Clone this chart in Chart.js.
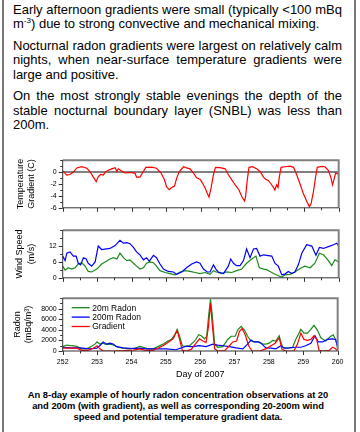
<!DOCTYPE html>
<html>
<head>
<meta charset="utf-8">
<script src="https://cdn.jsdelivr.net/npm/chart.js@4.4.0/dist/chart.umd.min.js"></script>
<style>
  body { margin: 0; background: #fff; font-family: "Liberation Sans", Arial, sans-serif; color: #000; }
  #page { position: relative; width: 360px; height: 432px; overflow: hidden; background: #fff; }
  .edge { position: absolute; top: 0; height: 432px; width: 1.5px; background: #777; }
  #txt { position: absolute; left: 13px; top: 2.5px; width: 329px; font-size: 13px; line-height: 14.5px; }
  .para { margin: 0 0 7px 0; }
  .j { text-align: justify; text-align-last: justify; white-space: nowrap; }
  sup { font-size: 8px; line-height: 0; vertical-align: 5px; }
  canvas { position: absolute; left: 0; }
  #cap { position: absolute; left: 2px; width: 352px; top: 388.5px; text-align: center; font-weight: bold; font-size: 9.4px; line-height: 11px; }
</style>
</head>
<body>
<div id="page">
  <div class="edge" style="left:2px"></div>
  <div class="edge" style="left:354px"></div>
  <div id="txt">
    <div class="para">
      <div class="j">Early afternoon gradients were small (typically &lt;100 mBq</div>
      <div>m<sup>-3</sup>) due to strong convective and mechanical mixing.</div>
    </div>
    <div class="para">
      <div class="j">Nocturnal radon gradients were largest on relatively calm</div>
      <div class="j">nights, when near-surface temperature gradients were</div>
      <div>large and positive.</div>
    </div>
    <div class="para">
      <div class="j">On the most strongly stable evenings the depth of the</div>
      <div class="j">stable nocturnal boundary layer (SNBL) was less than</div>
      <div>200m.</div>
    </div>
  </div>
  <canvas id="cTemp" width="350" height="68" style="top:150px"></canvas>
  <canvas id="cWind" width="350" height="68" style="top:220px"></canvas>
  <canvas id="cRadon" width="350" height="95" style="top:288px"></canvas>
  <div id="cap">An 8-day example of hourly radon concentration observations at 20<br>and 200m (with gradient), as well as corresponding 20-200m wind<br>speed and potential temperature gradient data.</div>
</div>
<script>
// potential temperature gradient 20-200m (C)
const tempDays = [252.00,252.12,252.21,252.31,252.41,252.55,252.70,252.79,252.89,252.97,253.03,253.10,253.18,253.23,253.32,253.42,253.52,253.57,253.61,253.71,253.81,253.90,254.00,254.10,254.14,254.24,254.31,254.41,254.58,254.72,254.85,254.95,255.01,255.09,255.16,255.24,255.30,255.37,255.50,255.59,255.69,255.79,255.88,255.98,256.05,256.13,256.20,256.24,256.30,256.37,256.43,256.56,256.71,256.80,256.90,257.01,257.11,257.19,257.27,257.30,257.35,257.40,257.50,257.62,257.72,257.82,257.88,257.96,258.04,258.11,258.15,258.20,258.24,258.28,258.33,258.44,258.59,258.69,258.78,258.88,258.98,259.07,259.15,259.20,259.27,259.33,259.38,259.51,259.60,259.70,259.77,259.82,259.87,259.91,259.97,260.00];
const tempGrad = [0.2,-0.5,-0.4,0.0,0.7,0.9,0.65,0.1,-0.85,-1.6,-0.8,-0.4,-0.5,0.0,0.3,0.55,0.75,0.1,0.55,0.2,-0.15,-0.1,-0.1,-0.2,-0.85,-0.85,-0.15,0.8,0.85,0.65,-0.15,-1.3,-2.5,-2.95,-2.6,-2.35,-1.1,0.0,0.9,0.7,0.55,-0.15,-0.95,-1.2,-1.8,-2.7,-3.7,-4.2,-2.7,-0.4,0.8,0.75,0.55,-0.4,-1.3,-2.25,-3.0,-4.1,-4.85,-4.2,-1.3,0.8,0.9,0.55,0.1,-0.85,-1.2,-1.4,-2.0,-2.6,-3.0,-2.15,-2.6,-0.8,0.8,0.9,1.0,0.8,-0.4,-2.0,-3.7,-4.85,-5.8,-5.3,-3.2,-0.85,0.8,0.95,0.9,0.3,-0.85,-2.15,-1.1,-0.15,-0.3,-0.4];

// wind speed (m/s)
const wind200Days = [252.00,252.07,252.12,252.21,252.31,252.39,252.45,252.52,252.60,252.68,252.74,252.84,252.94,253.03,253.13,253.37,253.52,253.66,253.76,253.86,253.95,254.05,254.14,254.24,254.34,254.43,254.51,254.63,254.72,254.82,254.92,255.06,255.21,255.30,255.45,255.59,255.74,255.88,255.98,256.08,256.19,256.27,256.37,256.44,256.51,256.66,256.80,256.87,256.95,257.04,257.14,257.24,257.33,257.43,257.53,257.62,257.72,257.82,257.91,258.06,258.15,258.25,258.35,258.44,258.54,258.64,258.73,258.83,258.93,259.07,259.22,259.34,259.44,259.56,259.70,259.85,259.94,260.00];
const wind200 = [8.2,6.5,9.3,9.8,8.2,8.2,5.5,4.9,7.6,7.1,5.5,4.4,6.0,12,10.7,11.1,12.2,14.2,13.1,13.3,12.9,11.5,9.8,8.7,6.8,7.6,6.3,8.5,7.6,5.2,3.3,2.4,2.2,1.3,2.2,3.8,5.2,6.0,5.5,3.3,2.2,2.2,4.9,3.3,2.2,1.6,4.4,7.1,5.5,4.6,4.6,6.5,10.9,7.6,10.9,11.1,8.2,8.7,8.5,8.2,5.5,4.4,1.1,1.4,2.4,1.6,2.2,4.9,9.3,12.5,12,8.5,11.5,11.1,11.8,12.5,13.1,12.2];
const wind20Days = [252.00,252.07,252.16,252.26,252.36,252.45,252.55,252.65,252.74,252.84,252.99,253.13,253.23,253.37,253.47,253.57,253.66,253.76,253.86,253.95,254.05,254.14,254.24,254.34,254.43,254.53,254.63,254.72,254.82,254.97,255.11,255.26,255.40,255.55,255.69,255.84,255.98,256.13,256.27,256.37,256.46,256.61,256.75,256.90,257.04,257.19,257.33,257.48,257.60,257.70,257.82,257.91,258.01,258.11,258.25,258.35,258.44,258.59,258.73,258.88,259.02,259.17,259.31,259.44,259.56,259.70,259.80,259.89,260.00];
const wind20 = [4.4,2.9,3.8,3.3,3.8,5.2,5.7,4.4,2.4,2.2,3.3,5.2,6.0,7.1,7.6,7.1,9.3,7.6,6.5,6.8,5.5,4.4,3.3,3.8,5.5,6.0,5.7,4.4,2.7,2.0,1.6,1.1,2.2,2.7,2.4,2.0,1.6,2.0,1.3,2.7,2.2,1.6,2.2,2.0,2.7,3.3,5.5,7.1,8.2,3.8,3.3,3.1,2.4,1.6,0.8,0.2,1.1,1.3,2.2,3.5,4.4,3.8,5.5,9.3,8.7,6.5,4.6,6.8,6.0];

// radon (mBq/m3)
const radon20Days = [252.00,252.12,252.26,252.41,252.55,252.70,252.84,252.94,253.00,253.08,253.16,253.26,253.37,253.47,253.61,253.76,253.95,254.10,254.24,254.34,254.48,254.63,254.77,254.92,255.06,255.16,255.26,255.33,255.40,255.48,255.55,255.69,255.84,255.96,256.03,256.13,256.19,256.25,256.30,256.35,256.42,256.51,256.66,256.80,256.90,257.02,257.09,257.19,257.29,257.38,257.48,257.57,257.72,257.82,257.91,258.01,258.11,258.20,258.30,258.35,258.40,258.54,258.69,258.78,258.93,259.02,259.12,259.22,259.31,259.41,259.51,259.65,259.80,259.87,259.94,260.00];
const radon20 = [830,1130,1000,890,410,410,890,1300,1720,1300,1480,1240,1300,1130,710,530,410,530,890,710,410,410,830,1300,1900,2190,3080,4090,2790,1000,890,1000,1900,3080,2900,2310,2790,6930,9780,6930,1300,710,830,2190,2790,2790,3970,4680,3970,2790,1900,1720,1720,1300,1300,1480,2010,1900,2900,1600,710,530,710,2190,4090,3380,3380,4090,4860,3970,2490,1900,2790,3080,2190,710];
const radon200Days = [252.00,252.21,252.50,252.79,252.99,253.08,253.18,253.28,253.37,253.47,253.57,253.76,254.05,254.24,254.43,254.72,255.01,255.30,255.45,255.59,255.79,255.98,256.17,256.37,256.51,256.66,256.85,257.04,257.24,257.38,257.48,257.57,257.67,257.77,257.91,258.06,258.20,258.35,258.44,258.59,258.78,258.93,259.07,259.22,259.34,259.44,259.56,259.70,259.85,259.94,260.00];
const radon200 = [710,590,590,410,530,1000,1720,1300,1480,1300,830,590,470,530,410,410,410,240,590,890,830,1000,830,1300,1130,1000,830,590,410,1300,2070,1720,1720,1480,590,530,410,1000,530,590,710,710,1000,1480,2900,1720,1720,2190,2310,2190,710];
const gradDays = [252.00,252.21,252.41,252.55,252.74,252.89,253.00,253.08,253.18,253.47,253.76,254.05,254.24,254.39,254.63,254.77,254.92,255.06,255.21,255.33,255.40,255.48,255.59,255.74,255.88,255.98,256.08,256.17,256.24,256.30,256.35,256.42,256.51,256.71,256.85,256.95,257.06,257.14,257.22,257.31,257.41,257.51,257.72,257.91,258.06,258.18,258.30,258.38,258.49,258.73,258.83,258.93,259.02,259.12,259.22,259.31,259.39,259.46,259.60,259.75,259.85,259.94,260.00];
const radonGrad = [530,530,530,120,120,530,1000,410,0,0,60,180,410,120,120,530,1000,1600,2310,3850,2190,120,0,300,1480,2310,1900,1600,4560,9010,5160,410,0,60,1000,1720,1900,3670,4270,3080,1000,0,0,410,1000,1480,2490,300,0,0,1300,3380,2190,2010,2190,2900,2190,120,0,120,710,410,0];

const dayTicks = [252, 253, 254, 255, 256, 257, 258, 259, 260];

const GREEN = '#1a8a1a', BLUE = '#0000ff', RED = '#ff0000';
const FONT = '"Liberation Sans", Arial, sans-serif';

Chart.defaults.font.family = FONT;
Chart.defaults.color = '#000';

const pts = (xs, ys) => xs.map((x, i) => ({ x: x, y: ys[i] }));

// frame, zero line, tick marks (major/minor) and the two-line y title
const frame = {
  id: 'frame',
  beforeDatasetsDraw(chart, args, opts) {
    const { ctx, chartArea: a } = chart;
    if (opts.zero) {
      const y0 = chart.scales.y.getPixelForValue(0);
      ctx.save();
      ctx.strokeStyle = '#808080';
      ctx.lineWidth = 2;
      ctx.beginPath();
      ctx.moveTo(a.left, y0);
      ctx.lineTo(a.right, y0);
      ctx.stroke();
      ctx.restore();
    }
  },
  afterDraw(chart, args, opts) {
    const { ctx, chartArea: a } = chart;
    const xs = chart.scales.x, ys = chart.scales.y;
    ctx.save();
    ctx.strokeStyle = '#808080';
    ctx.lineWidth = 2;
    ctx.beginPath();
    ctx.moveTo(a.left, a.top);
    ctx.lineTo(a.right, a.top);
    ctx.lineTo(a.right, a.bottom);
    ctx.stroke();
    ctx.strokeStyle = '#333';
    ctx.lineWidth = 1;
    ctx.beginPath();
    ctx.moveTo(a.left, a.top);
    ctx.lineTo(a.left, a.bottom);
    ctx.lineTo(a.right, a.bottom);
    xs.ticks.forEach(t => {
      const px = Math.round(xs.getPixelForValue(t.value)) + 0.5;
      const len = dayTicks.includes(t.value) ? 4 : 2.5;
      ctx.moveTo(px, a.bottom);
      ctx.lineTo(px, a.bottom + len);
    });
    ys.ticks.forEach(t => {
      const py = Math.round(ys.getPixelForValue(t.value)) + 0.5;
      const len = t.label !== '' ? 4 : 2.5;
      ctx.moveTo(a.left - len, py);
      ctx.lineTo(a.left, py);
    });
    ctx.stroke();

    // y title, rotated, one column per line
    const midY = (a.top + a.bottom) / 2;
    ctx.fillStyle = '#000';
    ctx.font = '9px ' + FONT;
    ctx.textAlign = 'center';
    ctx.textBaseline = 'middle';
    opts.title.forEach((line, i) => {
      ctx.save();
      ctx.translate(opts.titleX[i], midY);
      ctx.rotate(-Math.PI / 2);
      ctx.fillText(line, 0, 0);
      ctx.restore();
    });
    ctx.restore();
  }
};

// legend drawn inside the plot area, top left
const innerLegend = {
  id: 'innerLegend',
  afterDraw(chart, args, opts) {
    if (!opts.show) return;
    const { ctx, chartArea: a } = chart;
    ctx.save();
    ctx.font = '8.5px ' + FONT;
    ctx.textBaseline = 'middle';
    chart.data.datasets.forEach((ds, i) => {
      const y = a.top + 9.5 + i * 9.4;
      ctx.strokeStyle = ds.borderColor;
      ctx.lineWidth = 1.3;
      ctx.beginPath();
      ctx.moveTo(a.left + 9, y);
      ctx.lineTo(a.left + 27, y);
      ctx.stroke();
      ctx.fillStyle = '#000';
      ctx.fillText(ds.label, a.left + 29.5, y + 0.5);
    });
    ctx.restore();
  }
};

function xScale(showLabels) {
  return {
    type: 'linear', min: 252, max: 260,
    grid: { display: false, drawTicks: false }, border: { display: false },
    afterFit: s => { s.height = showLabels ? 32 : 6; },
    ticks: {
      display: showLabels, stepSize: 0.5, autoSkip: false, maxRotation: 0, padding: 6.5,
      font: { size: 7 },
      callback: v => (Number.isInteger(v) ? String(v) : '')
    },
    title: {
      display: showLabels, text: 'Day of 2007',
      font: { size: 9 }, padding: { top: 0, bottom: 3.5 }
    }
  };
}

function yScale(min, max, step, labelEvery) {
  return {
    type: 'linear', min: min, max: max,
    grid: { display: false, drawTicks: false }, border: { display: false },
    afterFit: s => { s.width = 62.7; },
    ticks: {
      stepSize: step, autoSkip: false, padding: 6, font: { size: 7 },
      callback: v => (v % labelEvery === 0 && v !== max ? String(v) : '')
    }
  };
}

function lineSet(label, data, color, order) {
  return {
    label: label, data: data, borderColor: color, backgroundColor: color,
    borderWidth: 1.2, pointRadius: 0, tension: 0, fill: false, order: order
  };
}

function makePanel(id, datasets, yOpts, title, titleX, padTop, showX, zero, legend) {
  return new Chart(document.getElementById(id), {
    type: 'line',
    data: { datasets: datasets },
    options: {
      responsive: false, animation: false, devicePixelRatio: 1,
      parsing: false, normalized: true,
      layout: { padding: { left: 0, right: 11.3, top: padTop, bottom: 0 } },
      scales: { x: xScale(showX), y: yOpts },
      plugins: {
        legend: { display: false }, tooltip: { enabled: false },
        frame: { zero: zero, title: title, titleX: titleX },
        innerLegend: { show: legend }
      }
    },
    plugins: [frame, innerLegend]
  });
}

makePanel('cTemp',
  [lineSet('Temperature Gradient', pts(tempDays, tempGrad), RED, 1)],
  yScale(-6, 2, 1, 2), ['Temperature', 'Gradient (C)'], [21, 32], 6, false, true, false);

makePanel('cWind',
  [lineSet('20m', pts(wind20Days, wind20), GREEN, 2),
   lineSet('200m', pts(wind200Days, wind200), BLUE, 1)],
  yScale(0, 18, 3, 6), ['Wind Speed', '(m/s)'], [20, 31.5], 7, false, false, false);

makePanel('cRadon',
  [lineSet('20m Radon', pts(radon20Days, radon20), GREEN, 3),
   lineSet('200m Radon', pts(radon200Days, radon200), BLUE, 2),
   lineSet('Gradient', pts(gradDays, radonGrad), RED, 1)],
  yScale(0, 10000, 1000, 2000), ['Radon', '(mBq/m\u00B3)'], [18, 29], 6.5, true, false, true);
</script>
</body>
</html>
